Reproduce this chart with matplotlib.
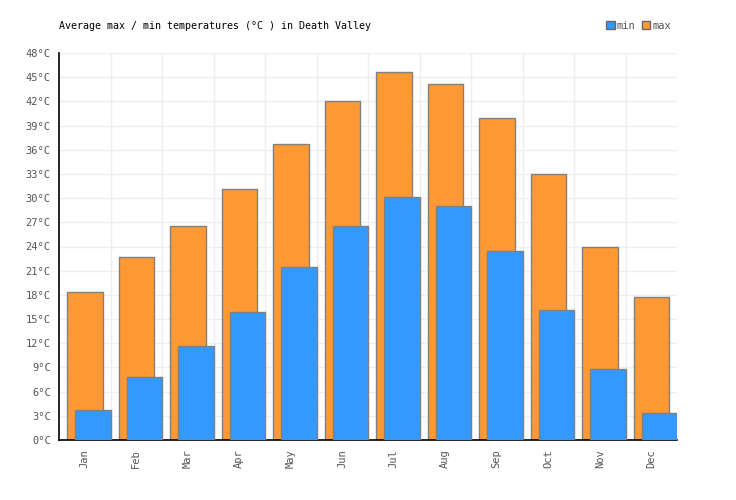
import numpy as np
import matplotlib
matplotlib.use("Agg")
import matplotlib.pyplot as plt
from matplotlib.patches import Patch

# -------- data --------
months = ["Jan", "Feb", "Mar", "Apr", "May", "Jun",
          "Jul", "Aug", "Sep", "Oct", "Nov", "Dec"]
t_max = [18.3, 22.7, 26.5, 31.1, 36.7, 42.1, 45.6, 44.2, 39.9, 33.0, 24.0, 17.7]
t_min = [3.7, 7.8, 11.7, 15.9, 21.5, 26.5, 30.1, 29.0, 23.5, 16.1, 8.8, 3.3]
yticks = list(range(0, 49, 3))

ORANGE = "#ff9933"
BLUE = "#3399ff"
EDGE = "#808080"
TXT = "#555555"

plt.rcParams["font.family"] = ["DejaVu Sans Mono"]

fig = plt.figure(figsize=(7.36, 5.0), dpi=100)
ax = fig.add_axes([59 / 736, 60 / 500, 618 / 736, 387 / 500])

x = np.arange(len(months))
w = 0.68
# max bar shifted left inside each slot, min bar drawn on top shifted right
ax.bar(x + 0.165, t_max, width=w, align="edge", color=ORANGE,
       edgecolor=EDGE, linewidth=1.0, zorder=2)
ax.bar(x + 0.32, t_min, width=w, align="edge", color=BLUE,
       edgecolor=EDGE, linewidth=1.0, zorder=3)

ax.set_xlim(0, len(months))
ax.set_ylim(0, 48)

ax.set_xticks(x + 0.5)
ax.set_xticklabels(months, rotation=90, fontsize=7.5, color=TXT)
ax.set_xticks(np.arange(1, len(months)), minor=True)
ax.set_yticks(yticks)
ax.set_yticklabels([f"{v}°C" for v in yticks], fontsize=7.5, color=TXT)
ax.tick_params(axis="both", which="both", length=0)
ax.tick_params(axis="y", pad=6)
ax.tick_params(axis="x", pad=7)

ax.grid(True, axis="y", color="#eeeeee", linewidth=1, zorder=0)
ax.grid(True, axis="x", which="minor", color="#eeeeee", linewidth=1, zorder=0)
ax.set_axisbelow(True)

for s in ["top", "right"]:
    ax.spines[s].set_visible(False)
ax.spines["left"].set_color("black")
ax.spines["bottom"].set_color("black")
ax.spines["left"].set_linewidth(1.2)
ax.spines["bottom"].set_linewidth(1.2)

fig.text(59 / 736, 1 - 26 / 500, "Average max / min temperatures (°C ) in Death Valley",
         fontsize=7.2, color="black", va="center", ha="left")

handles = [Patch(facecolor=BLUE, edgecolor="#666666", linewidth=1, label="min"),
           Patch(facecolor=ORANGE, edgecolor="#666666", linewidth=1, label="max")]
fig.legend(handles=handles, loc="center right", bbox_to_anchor=(675 / 736, 1 - 26 / 500),
           ncol=2, frameon=False, fontsize=7.5, handlelength=0.8, handleheight=0.8,
           handletextpad=0.2, columnspacing=0.6, labelcolor=TXT, borderaxespad=0)

fig.savefig("out.png", dpi=100)
